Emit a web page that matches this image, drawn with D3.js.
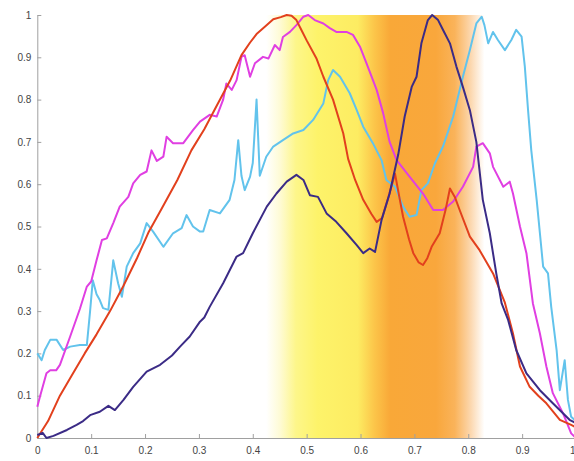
<!DOCTYPE html>
<html>
<head>
<meta charset="utf-8">
<script src="https://cdn.jsdelivr.net/npm/d3@7/dist/d3.min.js"></script>
<style>
  html, body { margin: 0; padding: 0; background: #fff; }
  svg { display: block; }
  .axis text { font-family: "Liberation Sans", Arial, sans-serif; font-size: 10px; fill: #444; }
  .axis path, .axis line { stroke: #a0a0a0; stroke-width: 1; }
</style>
</head>
<body>
<svg id="chart" width="574" height="461"></svg>
<script>
// Tick values for both axes
const xTicks = [0, 0.1, 0.2, 0.3, 0.4, 0.5, 0.6, 0.7, 0.8, 0.9, 1];
const yTicks = [0, 0.1, 0.2, 0.3, 0.4, 0.5, 0.6, 0.7, 0.8, 0.9, 1];

// Shaded band extent along x
const bandRange = [0.42, 0.84];

// Series: orange-red
const redX = [0,0.02,0.042,0.065,0.088,0.11,0.135,0.16,0.185,0.206,0.23,0.26,0.286,0.31,0.335,0.358,0.379,0.395,0.407,0.425,0.438,0.452,0.463,0.472,0.481,0.49,0.5,0.518,0.531,0.549,0.568,0.577,0.59,0.605,0.62,0.63,0.64,0.652,0.664,0.672,0.679,0.69,0.698,0.708,0.716,0.724,0.732,0.747,0.758,0.766,0.775,0.784,0.803,0.821,0.846,0.868,0.883,0.896,0.914,0.93,0.945,0.97,0.991,1.0];
const redY = [0,0.04,0.1,0.15,0.2,0.245,0.3,0.36,0.425,0.485,0.54,0.61,0.68,0.73,0.79,0.845,0.905,0.935,0.955,0.975,0.99,0.995,1.0,0.998,0.988,0.965,0.94,0.898,0.854,0.8,0.72,0.66,0.61,0.563,0.53,0.511,0.52,0.57,0.625,0.57,0.523,0.47,0.437,0.415,0.409,0.425,0.452,0.484,0.54,0.59,0.57,0.539,0.476,0.444,0.389,0.32,0.247,0.169,0.121,0.1,0.082,0.043,0.031,0.025];

// Series: dark purple
const purpleX = [0,0.01,0.017,0.03,0.055,0.073,0.085,0.098,0.116,0.132,0.144,0.16,0.178,0.203,0.228,0.25,0.265,0.283,0.302,0.31,0.32,0.345,0.37,0.382,0.4,0.426,0.444,0.463,0.481,0.494,0.506,0.521,0.537,0.555,0.574,0.593,0.605,0.617,0.627,0.639,0.654,0.67,0.682,0.695,0.704,0.713,0.725,0.733,0.744,0.753,0.766,0.778,0.79,0.803,0.815,0.827,0.84,0.852,0.862,0.874,0.889,0.908,0.933,0.957,0.988,1.0];
const purpleY = [0.007,0.012,0.0,0.005,0.019,0.031,0.04,0.054,0.062,0.076,0.066,0.09,0.121,0.157,0.173,0.195,0.216,0.24,0.275,0.285,0.31,0.366,0.429,0.437,0.484,0.547,0.578,0.606,0.622,0.61,0.574,0.57,0.531,0.511,0.484,0.456,0.437,0.448,0.44,0.515,0.578,0.67,0.76,0.83,0.854,0.933,0.988,1.0,0.988,0.965,0.933,0.878,0.83,0.775,0.7,0.563,0.484,0.389,0.318,0.279,0.208,0.153,0.113,0.082,0.043,0.035];

// Series: magenta
const magentaX = [0,0.005,0.017,0.024,0.035,0.042,0.061,0.079,0.092,0.1,0.11,0.12,0.129,0.141,0.153,0.169,0.178,0.191,0.203,0.212,0.222,0.234,0.24,0.252,0.271,0.289,0.302,0.32,0.333,0.345,0.351,0.361,0.37,0.379,0.385,0.395,0.404,0.419,0.429,0.441,0.45,0.456,0.469,0.481,0.494,0.503,0.515,0.531,0.543,0.555,0.574,0.586,0.599,0.611,0.63,0.642,0.654,0.667,0.691,0.716,0.735,0.753,0.772,0.79,0.809,0.815,0.827,0.84,0.846,0.865,0.877,0.883,0.896,0.908,0.92,0.933,0.945,0.957,0.976,0.991,1.0];
const magentaY = [0.074,0.098,0.153,0.16,0.16,0.173,0.24,0.305,0.358,0.37,0.42,0.468,0.472,0.508,0.547,0.57,0.602,0.622,0.63,0.68,0.655,0.665,0.712,0.697,0.697,0.728,0.748,0.764,0.76,0.8,0.838,0.823,0.846,0.901,0.905,0.854,0.886,0.901,0.897,0.929,0.917,0.948,0.96,0.976,0.996,1.0,0.988,0.98,0.969,0.96,0.96,0.953,0.925,0.886,0.823,0.768,0.7,0.657,0.618,0.578,0.539,0.539,0.559,0.594,0.641,0.689,0.697,0.673,0.641,0.594,0.606,0.578,0.5,0.437,0.318,0.247,0.169,0.106,0.058,0.011,0.0];

// Series: light blue
const blueX = [0,0.008,0.014,0.024,0.036,0.048,0.061,0.079,0.092,0.098,0.103,0.11,0.116,0.122,0.132,0.141,0.15,0.157,0.166,0.178,0.191,0.203,0.215,0.234,0.252,0.268,0.277,0.289,0.302,0.308,0.32,0.339,0.357,0.366,0.373,0.379,0.385,0.395,0.4,0.407,0.413,0.425,0.438,0.456,0.475,0.494,0.512,0.531,0.54,0.549,0.562,0.58,0.593,0.605,0.623,0.639,0.648,0.664,0.679,0.691,0.704,0.713,0.725,0.738,0.753,0.772,0.79,0.803,0.815,0.825,0.83,0.837,0.846,0.855,0.868,0.88,0.889,0.899,0.905,0.911,0.917,0.927,0.933,0.939,0.948,0.954,0.964,0.97,0.979,0.985,0.991,1.0];
const blueY = [0.2,0.184,0.208,0.232,0.232,0.208,0.216,0.22,0.22,0.3,0.373,0.34,0.326,0.307,0.303,0.42,0.366,0.334,0.405,0.437,0.46,0.508,0.488,0.452,0.484,0.496,0.527,0.5,0.488,0.488,0.539,0.531,0.563,0.61,0.704,0.62,0.586,0.618,0.65,0.8,0.62,0.665,0.689,0.704,0.72,0.728,0.752,0.791,0.846,0.87,0.854,0.815,0.775,0.736,0.697,0.657,0.61,0.594,0.547,0.523,0.527,0.586,0.602,0.649,0.689,0.76,0.854,0.917,0.98,0.996,0.976,0.933,0.96,0.941,0.917,0.941,0.965,0.949,0.878,0.775,0.68,0.563,0.484,0.405,0.389,0.31,0.208,0.113,0.184,0.09,0.05,0.04];

const svg = d3.select("#chart");

const x = d3.scaleLinear().domain([0, 1]).range([37.3, 576]);
const y = d3.scaleLinear().domain([0, 1]).range([438, 15]);

// Horizontal colour gradient for the shaded band (white → yellow → orange → white)
const grad = svg.append("defs").append("linearGradient")
  .attr("id", "bandGrad")
  .attr("gradientUnits", "userSpaceOnUse")
  .attr("x1", x(bandRange[0])).attr("x2", x(bandRange[1]))
  .attr("y1", 0).attr("y2", 0);
const bandStops = [
  [0.425, "#ffffff"], [0.45, "#fefbd6"], [0.48, "#fdf68a"], [0.52, "#fdf36a"],
  [0.595, "#fdec62"], [0.625, "#fcc64a"], [0.655, "#f9a838"], [0.74, "#f9a73c"],
  [0.775, "#fab35a"], [0.805, "#fcd8b0"], [0.83, "#ffffff"]
];
bandStops.forEach(([v, c]) => {
  grad.append("stop")
    .attr("offset", (v - bandRange[0]) / (bandRange[1] - bandRange[0]))
    .attr("stop-color", c);
});

svg.append("rect")
  .attr("x", x(bandRange[0]))
  .attr("y", y(1))
  .attr("width", x(bandRange[1]) - x(bandRange[0]))
  .attr("height", y(0) - y(1))
  .attr("fill", "url(#bandGrad)");

// Axes with inward ticks
const fmt = d => String(+d.toFixed(1));
const xAxisG = svg.append("g")
  .attr("class", "axis")
  .attr("transform", `translate(0,${y(0)})`)
  .call(d3.axisBottom(x).tickValues(xTicks).tickFormat(fmt).tickSizeInner(-4).tickSizeOuter(0).tickPadding(9));
// keep the last x label inside the canvas edge
xAxisG.selectAll(".tick text")
  .filter(d => d === 1)
  .attr("text-anchor", "end")
  .attr("dx", "-1");

svg.append("g")
  .attr("class", "axis")
  .attr("transform", `translate(${x(0)},0)`)
  .call(d3.axisLeft(y).tickValues(yTicks).tickFormat(fmt).tickSizeInner(-4).tickSizeOuter(0).tickPadding(6));

// Lines
const series = [
  { xs: blueX, ys: blueY, color: "#62c3ec" },
  { xs: magentaX, ys: magentaY, color: "#e03fe2" },
  { xs: redX, ys: redY, color: "#e2401d" },
  { xs: purpleX, ys: purpleY, color: "#3b2b86" }
];
const line = d3.line().x(d => x(d[0])).y(d => y(d[1]));
series.forEach(s => {
  const pts = s.xs.map((v, i) => [v, s.ys[i]]);
  svg.append("path")
    .datum(pts)
    .attr("fill", "none")
    .attr("stroke", s.color)
    .attr("stroke-width", 2)
    .attr("stroke-linejoin", "round")
    .attr("d", line);
});
</script>
</body>
</html>
